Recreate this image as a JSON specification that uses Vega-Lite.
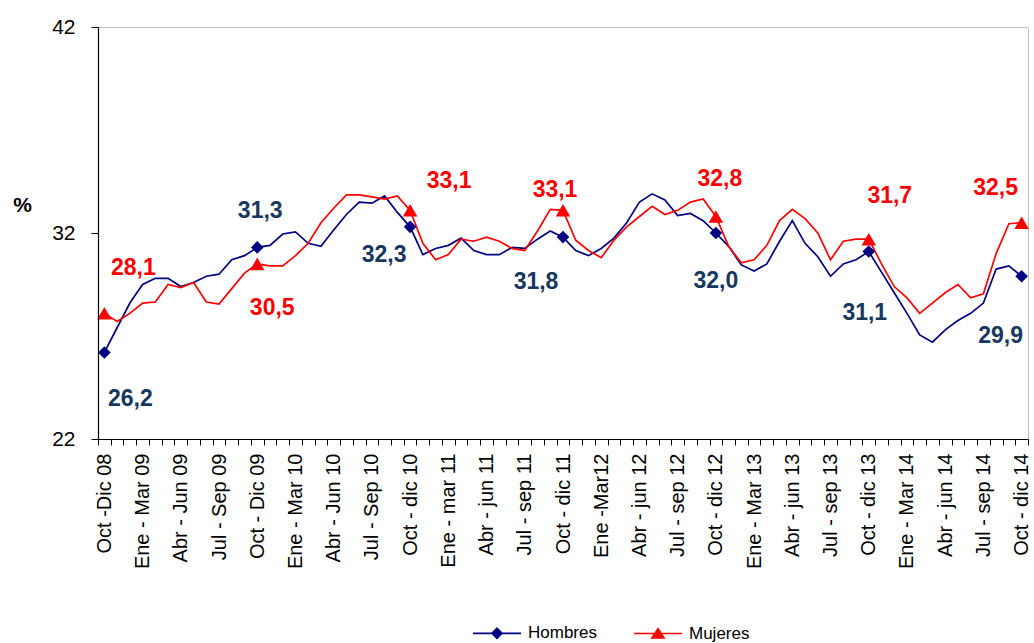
{
  "$schema": "https://vega.github.io/schema/vega-lite/v6.json",
  "width": 930,
  "height": 412,
  "autosize": "none",
  "padding": {"left": 98, "top": 27, "right": 6, "bottom": 204},
  "config": {
    "font": "Liberation Sans",
    "view": {"stroke": "#BFBFBF", "strokeWidth": 1},
    "locale": {"number": {"decimal": ",", "thousands": ".", "grouping": [3], "currency": ["", " €"]}}
  },
  "data": {"values": [
    {"periodo": "Oct -Dic 08", "Hombres": 26.2, "Mujeres": 28.1},
    {"periodo": "Nov 08 - Ene 09", "Hombres": 27.4, "Mujeres": 27.7},
    {"periodo": "Dic 08 - Feb 09", "Hombres": 28.6, "Mujeres": 28.1},
    {"periodo": "Ene - Mar 09", "Hombres": 29.5, "Mujeres": 28.6},
    {"periodo": "Feb - Abr 09", "Hombres": 29.8, "Mujeres": 28.65},
    {"periodo": "Mar - May 09", "Hombres": 29.8, "Mujeres": 29.5},
    {"periodo": "Abr - Jun 09", "Hombres": 29.4, "Mujeres": 29.35},
    {"periodo": "May - Jul 09", "Hombres": 29.6, "Mujeres": 29.6},
    {"periodo": "Jun - Ago 09", "Hombres": 29.9, "Mujeres": 28.65},
    {"periodo": "Jul - Sep 09", "Hombres": 30.0, "Mujeres": 28.55},
    {"periodo": "Ago - Oct 09", "Hombres": 30.7, "Mujeres": 29.3},
    {"periodo": "Sep - Nov 09", "Hombres": 30.9, "Mujeres": 30.05},
    {"periodo": "Oct - Dic 09", "Hombres": 31.3, "Mujeres": 30.5},
    {"periodo": "Nov 09 - Ene 10", "Hombres": 31.4, "Mujeres": 30.4},
    {"periodo": "Dic 09 - Feb 10", "Hombres": 31.95, "Mujeres": 30.4},
    {"periodo": "Ene - Mar 10", "Hombres": 32.05, "Mujeres": 30.9},
    {"periodo": "Feb - Abr 10", "Hombres": 31.5, "Mujeres": 31.5},
    {"periodo": "Mar - May 10", "Hombres": 31.35, "Mujeres": 32.5},
    {"periodo": "Abr - Jun 10", "Hombres": 32.15, "Mujeres": 33.2},
    {"periodo": "May - Jul 10", "Hombres": 32.9, "Mujeres": 33.85},
    {"periodo": "Jun - Ago 10", "Hombres": 33.5, "Mujeres": 33.85},
    {"periodo": "Jul - Sep 10", "Hombres": 33.45, "Mujeres": 33.75},
    {"periodo": "Ago - Oct 10", "Hombres": 33.8, "Mujeres": 33.65},
    {"periodo": "Sep - Nov 10", "Hombres": 33.0, "Mujeres": 33.8},
    {"periodo": "Oct - dic 10", "Hombres": 32.3, "Mujeres": 33.1},
    {"periodo": "Nov 10 - Ene 11", "Hombres": 30.95, "Mujeres": 31.5},
    {"periodo": "Dic 10 - Feb 11", "Hombres": 31.25, "Mujeres": 30.7},
    {"periodo": "Ene - mar 11", "Hombres": 31.4, "Mujeres": 30.95},
    {"periodo": "Feb - Abr 11", "Hombres": 31.75, "Mujeres": 31.7},
    {"periodo": "Mar - May 11", "Hombres": 31.15, "Mujeres": 31.6},
    {"periodo": "Abr - jun 11", "Hombres": 30.95, "Mujeres": 31.8},
    {"periodo": "May - Jul 11", "Hombres": 30.95, "Mujeres": 31.6},
    {"periodo": "Jun - Ago 11", "Hombres": 31.3, "Mujeres": 31.25},
    {"periodo": "Jul - sep 11", "Hombres": 31.25, "Mujeres": 31.15},
    {"periodo": "Ago - Oct 11", "Hombres": 31.7, "Mujeres": 32.1},
    {"periodo": "Sep - Nov 11", "Hombres": 32.1, "Mujeres": 33.15},
    {"periodo": "Oct - dic 11", "Hombres": 31.8, "Mujeres": 33.1},
    {"periodo": "Nov 11 - Ene 12", "Hombres": 31.15, "Mujeres": 31.65},
    {"periodo": "Dic 11 - Feb 12", "Hombres": 30.9, "Mujeres": 31.15},
    {"periodo": "Ene -Mar12", "Hombres": 31.25, "Mujeres": 30.8},
    {"periodo": "Feb - Abr 12", "Hombres": 31.75, "Mujeres": 31.65},
    {"periodo": "Mar - May 12", "Hombres": 32.5, "Mujeres": 32.3},
    {"periodo": "Abr - jun 12", "Hombres": 33.5, "Mujeres": 32.8},
    {"periodo": "May - Jul 12", "Hombres": 33.9, "Mujeres": 33.3},
    {"periodo": "Jun - Ago 12", "Hombres": 33.6, "Mujeres": 32.9},
    {"periodo": "Jul - sep 12", "Hombres": 32.85, "Mujeres": 33.1},
    {"periodo": "Ago - Oct 12", "Hombres": 32.95, "Mujeres": 33.5},
    {"periodo": "Sep - Nov 12", "Hombres": 32.6, "Mujeres": 33.65},
    {"periodo": "Oct - dic 12", "Hombres": 32.0, "Mujeres": 32.8},
    {"periodo": "Nov 12 - Ene 13", "Hombres": 31.35, "Mujeres": 31.35},
    {"periodo": "Dic 12 - Feb 13", "Hombres": 30.45, "Mujeres": 30.55},
    {"periodo": "Ene - Mar 13", "Hombres": 30.15, "Mujeres": 30.7},
    {"periodo": "Feb - Abr 13", "Hombres": 30.5, "Mujeres": 31.4},
    {"periodo": "Mar - May 13", "Hombres": 31.6, "Mujeres": 32.6},
    {"periodo": "Abr - jun 13", "Hombres": 32.6, "Mujeres": 33.15},
    {"periodo": "May - Jul 13", "Hombres": 31.5, "Mujeres": 32.7},
    {"periodo": "Jun - Ago 13", "Hombres": 30.85, "Mujeres": 32.0},
    {"periodo": "Jul - sep 13", "Hombres": 29.9, "Mujeres": 30.7},
    {"periodo": "Ago - Oct 13", "Hombres": 30.5, "Mujeres": 31.6},
    {"periodo": "Sep - Nov 13", "Hombres": 30.7, "Mujeres": 31.7},
    {"periodo": "Oct - dic 13", "Hombres": 31.1, "Mujeres": 31.7},
    {"periodo": "Nov 13 - Ene 14", "Hombres": 30.1, "Mujeres": 30.5},
    {"periodo": "Dic 13 - Feb 14", "Hombres": 29.1, "Mujeres": 29.4},
    {"periodo": "Ene - Mar 14", "Hombres": 28.1, "Mujeres": 28.85},
    {"periodo": "Feb - Abr 14", "Hombres": 27.05, "Mujeres": 28.1},
    {"periodo": "Mar - May 14", "Hombres": 26.7, "Mujeres": 28.6},
    {"periodo": "Abr - jun 14", "Hombres": 27.3, "Mujeres": 29.1},
    {"periodo": "May - Jul 14", "Hombres": 27.75, "Mujeres": 29.5},
    {"periodo": "Jun - Ago 14", "Hombres": 28.1, "Mujeres": 28.85},
    {"periodo": "Jul - sep 14", "Hombres": 28.6, "Mujeres": 29.05},
    {"periodo": "Ago - Oct 14", "Hombres": 30.25, "Mujeres": 31.0},
    {"periodo": "Sep - Nov 14", "Hombres": 30.4, "Mujeres": 32.45},
    {"periodo": "Oct - dic 14", "Hombres": 29.9, "Mujeres": 32.5}
  ]},
  "encoding": {
    "x": {
      "field": "periodo", "type": "ordinal", "sort": null, "bandPosition": 0.5,
      "scale": {"type": "band", "paddingInner": 0, "paddingOuter": 0},
      "axis": {
        "title": null, "grid": false, "zindex": 1,
        "domainColor": "#000000", "domainWidth": 1.2,
        "tickColor": "#000000", "tickSize": 6, "tickBand": "extent",
        "labelAngle": -90, "labelAlign": "right", "labelBaseline": "middle",
        "labelFontSize": 20, "labelColor": "#000000", "labelPadding": 8,
        "labelOverlap": false, "labelBound": false,
        "labelExpr": "indexof(['Oct','Ene','Abr','Jul'], slice(datum.label, 0, 3)) >= 0 ? datum.label : ''"
      }
    }
  },
  "layer": [
    {
      "mark": {"type": "line", "color": "#000080", "strokeWidth": 1.7},
      "encoding": {
        "y": {
          "field": "Hombres", "type": "quantitative",
          "scale": {"domain": [22, 42], "nice": false, "zero": false},
          "axis": {
            "values": [22, 32, 42], "grid": false, "zindex": 1,
            "domainColor": "#000000", "domainWidth": 1.2,
            "tickColor": "#000000", "tickSize": 7,
            "labelFontSize": 21, "labelColor": "#000000", "labelPadding": 16,
            "title": "%", "titleAngle": 0, "titleFontSize": 21, "titleFontWeight": "bold",
            "titleColor": "#000000", "titleX": -76, "titleY": 178,
            "titleAlign": "center", "titleBaseline": "middle"
          }
        }
      }
    },
    {
      "mark": {"type": "line", "color": "#FF0000", "strokeWidth": 1.7},
      "encoding": {"y": {"field": "Mujeres", "type": "quantitative"}}
    },
    {
      "transform": [{"filter": "slice(datum.periodo, 0, 3) == 'Oct'"}],
      "mark": {"type": "point", "shape": "diamond", "filled": true, "color": "#000080", "size": 160, "opacity": 1},
      "encoding": {"y": {"field": "Hombres", "type": "quantitative"}}
    },
    {
      "transform": [{"filter": "slice(datum.periodo, 0, 3) == 'Oct'"}],
      "mark": {"type": "point", "shape": "triangle-up", "filled": true, "color": "#FF0000", "size": 210, "opacity": 1},
      "encoding": {"y": {"field": "Mujeres", "type": "quantitative"}}
    },
    {
      "transform": [{"filter": "datum.periodo == 'Oct -Dic 08'"}],
      "mark": {"type": "text", "fontSize": 23, "fontWeight": "bold", "color": "#17375E", "dx": 26, "dy": 47},
      "encoding": {"y": {"field": "Hombres", "type": "quantitative"}, "text": {"field": "Hombres", "type": "quantitative", "format": ".1f"}}
    },
    {
      "transform": [{"filter": "datum.periodo == 'Oct -Dic 08'"}],
      "mark": {"type": "text", "fontSize": 23, "fontWeight": "bold", "color": "#FF0000", "dx": 29, "dy": -45},
      "encoding": {"y": {"field": "Mujeres", "type": "quantitative"}, "text": {"field": "Mujeres", "type": "quantitative", "format": ".1f"}}
    },
    {
      "transform": [{"filter": "datum.periodo == 'Oct - Dic 09'"}],
      "mark": {"type": "text", "fontSize": 23, "fontWeight": "bold", "color": "#17375E", "dx": 3, "dy": -36},
      "encoding": {"y": {"field": "Hombres", "type": "quantitative"}, "text": {"field": "Hombres", "type": "quantitative", "format": ".1f"}}
    },
    {
      "transform": [{"filter": "datum.periodo == 'Oct - Dic 09'"}],
      "mark": {"type": "text", "fontSize": 23, "fontWeight": "bold", "color": "#FF0000", "dx": 15, "dy": 44},
      "encoding": {"y": {"field": "Mujeres", "type": "quantitative"}, "text": {"field": "Mujeres", "type": "quantitative", "format": ".1f"}}
    },
    {
      "transform": [{"filter": "datum.periodo == 'Oct - dic 10'"}],
      "mark": {"type": "text", "fontSize": 23, "fontWeight": "bold", "color": "#17375E", "dx": -26, "dy": 28},
      "encoding": {"y": {"field": "Hombres", "type": "quantitative"}, "text": {"field": "Hombres", "type": "quantitative", "format": ".1f"}}
    },
    {
      "transform": [{"filter": "datum.periodo == 'Oct - dic 10'"}],
      "mark": {"type": "text", "fontSize": 23, "fontWeight": "bold", "color": "#FF0000", "dx": 39, "dy": -29},
      "encoding": {"y": {"field": "Mujeres", "type": "quantitative"}, "text": {"field": "Mujeres", "type": "quantitative", "format": ".1f"}}
    },
    {
      "transform": [{"filter": "datum.periodo == 'Oct - dic 11'"}],
      "mark": {"type": "text", "fontSize": 23, "fontWeight": "bold", "color": "#17375E", "dx": -27, "dy": 45},
      "encoding": {"y": {"field": "Hombres", "type": "quantitative"}, "text": {"field": "Hombres", "type": "quantitative", "format": ".1f"}}
    },
    {
      "transform": [{"filter": "datum.periodo == 'Oct - dic 11'"}],
      "mark": {"type": "text", "fontSize": 23, "fontWeight": "bold", "color": "#FF0000", "dx": -8, "dy": -20},
      "encoding": {"y": {"field": "Mujeres", "type": "quantitative"}, "text": {"field": "Mujeres", "type": "quantitative", "format": ".1f"}}
    },
    {
      "transform": [{"filter": "datum.periodo == 'Oct - dic 12'"}],
      "mark": {"type": "text", "fontSize": 23, "fontWeight": "bold", "color": "#17375E", "dx": 0, "dy": 48},
      "encoding": {"y": {"field": "Hombres", "type": "quantitative"}, "text": {"field": "Hombres", "type": "quantitative", "format": ".1f"}}
    },
    {
      "transform": [{"filter": "datum.periodo == 'Oct - dic 12'"}],
      "mark": {"type": "text", "fontSize": 23, "fontWeight": "bold", "color": "#FF0000", "dx": 4, "dy": -38},
      "encoding": {"y": {"field": "Mujeres", "type": "quantitative"}, "text": {"field": "Mujeres", "type": "quantitative", "format": ".1f"}}
    },
    {
      "transform": [{"filter": "datum.periodo == 'Oct - dic 13'"}],
      "mark": {"type": "text", "fontSize": 23, "fontWeight": "bold", "color": "#17375E", "dx": -4, "dy": 61},
      "encoding": {"y": {"field": "Hombres", "type": "quantitative"}, "text": {"field": "Hombres", "type": "quantitative", "format": ".1f"}}
    },
    {
      "transform": [{"filter": "datum.periodo == 'Oct - dic 13'"}],
      "mark": {"type": "text", "fontSize": 23, "fontWeight": "bold", "color": "#FF0000", "dx": 21, "dy": -43},
      "encoding": {"y": {"field": "Mujeres", "type": "quantitative"}, "text": {"field": "Mujeres", "type": "quantitative", "format": ".1f"}}
    },
    {
      "transform": [{"filter": "datum.periodo == 'Oct - dic 14'"}],
      "mark": {"type": "text", "fontSize": 23, "fontWeight": "bold", "color": "#17375E", "dx": -21, "dy": 60},
      "encoding": {"y": {"field": "Hombres", "type": "quantitative"}, "text": {"field": "Hombres", "type": "quantitative", "format": ".1f"}}
    },
    {
      "transform": [{"filter": "datum.periodo == 'Oct - dic 14'"}],
      "mark": {"type": "text", "fontSize": 23, "fontWeight": "bold", "color": "#FF0000", "dx": -26, "dy": -35},
      "encoding": {"y": {"field": "Mujeres", "type": "quantitative"}, "text": {"field": "Mujeres", "type": "quantitative", "format": ".1f"}}
    },
    {
      "transform": [
        {"filter": "slice(datum.periodo, 0, 3) == 'Oct'"},
        {"fold": ["Hombres", "Mujeres"], "as": ["serie", "valor"]}
      ],
      "mark": {"type": "point", "filled": true, "opacity": 0},
      "encoding": {
        "y": {"field": "valor", "type": "quantitative"},
        "color": {
          "field": "serie", "type": "nominal",
          "scale": {"domain": ["Hombres", "Mujeres"], "range": ["#000080", "#FF0000"]},
          "legend": {
            "orient": "none", "legendX": 374, "legendY": 581,
            "direction": "horizontal", "columns": 2, "title": null,
            "padding": 0, "offset": 0,
            "symbolSize": 2304, "symbolStrokeWidth": 1.7, "symbolOpacity": 1,
            "labelFontSize": 17, "labelColor": "#000000", "labelOffset": 6,
            "columnPadding": 33,
            "encode": {"symbols": {"update": {
              "fill": {"scale": "color", "field": "value"},
              "stroke": {"scale": "color", "field": "value"},
              "opacity": {"value": 1},
              "strokeWidth": {"value": 1.7}
            }}}
          }
        },
        "shape": {
          "field": "serie", "type": "nominal",
          "scale": {"domain": ["Hombres", "Mujeres"], "range": [
            "M-1,0H1M0,-0.21L0.21,0L0,0.21L-0.21,0Z",
            "M-1,0H1M0,-0.2L0.25,0.18L-0.25,0.18Z"
          ]},
          "legend": {
            "orient": "none", "legendX": 374, "legendY": 581,
            "direction": "horizontal", "columns": 2, "title": null,
            "padding": 0, "offset": 0,
            "symbolSize": 2304, "symbolStrokeWidth": 1.7, "symbolOpacity": 1,
            "labelFontSize": 17, "labelColor": "#000000", "labelOffset": 6,
            "columnPadding": 33
          }
        }
      }
    }
  ]
}
